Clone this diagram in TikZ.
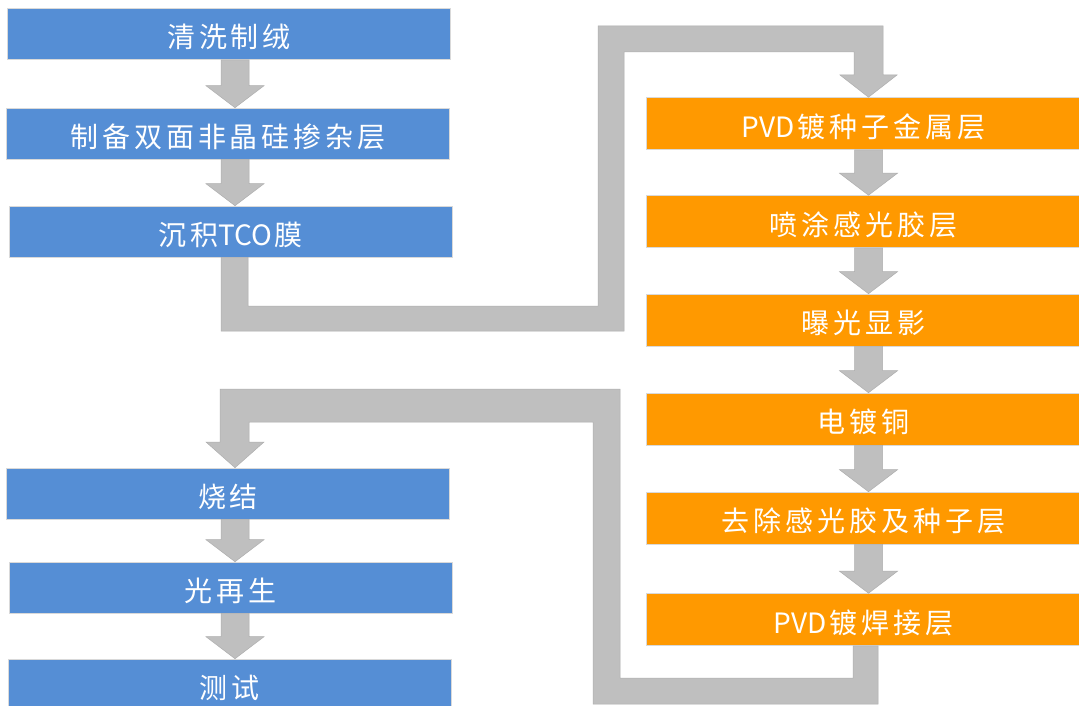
\documentclass[tikz,border=0pt]{standalone}
\usepackage{fontspec}
\newfontfamily\cjk[LetterSpace=14]{Noto Sans CJK SC}
\newfontfamily\lat{Noto Sans CJK SC}
\usetikzlibrary{calc}
\definecolor{bblue}{HTML}{558ED5}
\definecolor{borange}{HTML}{FF9900}
\definecolor{agray}{HTML}{BFBFBF}
\definecolor{aedge}{HTML}{AEAEAE}
\definecolor{bedge}{HTML}{D9D9D9}
\newcommand{\lbl}[1]{\raisebox{-3pt}[\height][\depth]{#1}}
\newcommand{\ltn}[1]{{\lat #1}\hspace{3pt}}
\newcommand{\blockarrow}[3]{%
  \fill[arr] let \p1=(#1.south), \p2=(#2.north), \p3=(#3) in
    ({\x3-14pt},{\y1}) -- ({\x3-14pt},{\y2+22pt}) -- ({\x3-29pt},{\y2+22pt}) --
    ({\x3},{\y2}) -- ({\x3+29pt},{\y2+22pt}) -- ({\x3+14pt},{\y2+22pt}) --
    ({\x3+14pt},{\y1}) -- cycle;}
\begin{document}
\begin{tikzpicture}[x=1pt,y=-1pt,
  box/.style={rectangle, inner sep=0pt, draw=bedge, line width=0.6pt, text=white,
    font=\cjk\fontsize{28}{32}\selectfont},
  bluebox/.style={box, fill=bblue, minimum width=443pt, minimum height=51pt},
  orangebox/.style={box, fill=borange, minimum width=434pt, minimum height=52pt},
  arr/.style={fill=agray, draw=aedge, line width=0.5pt}]
\useasboundingbox (0,0) rectangle (1079,706);
\fill[white] (0,0) rectangle (1079,706);

\coordinate (axL) at (235,0);
\coordinate (axR) at (868.5,0);

\node[bluebox] (L1) at (229,34) {\lbl{清洗制绒}};
\node[bluebox] (L2) at (228,133.5) {\lbl{制备双面非晶硅掺杂层}};
\node[bluebox] (L3) at (230.5,231.5) {\lbl{沉积\ltn{TCO}膜}};
\node[bluebox] (L4) at (228,493.5) {\lbl{烧结}};
\node[bluebox] (L5) at (230.5,587.5) {\lbl{光再生}};
\node[bluebox, minimum height=52pt] (L6) at (229.5,685) {\lbl{测试}};

\node[orangebox] (R1) at (863.5,123.5) {\lbl{\ltn{PVD}镀种子金属层}};
\node[orangebox] (R2) at (863.5,221.5) {\lbl{喷涂感光胶层}};
\node[orangebox] (R3) at (863.5,320) {\lbl{曝光显影}};
\node[orangebox] (R4) at (863.5,419) {\lbl{电镀铜}};
\node[orangebox] (R5) at (863.5,518) {\lbl{去除感光胶及种子层}};
\node[orangebox] (R6) at (863.5,619.5) {\lbl{\ltn{PVD}镀焊接层}};

\blockarrow{L1}{L2}{axL}
\blockarrow{L2}{L3}{axL}
\blockarrow{L4}{L5}{axL}
\blockarrow{L5}{L6}{axL}
\blockarrow{R1}{R2}{axR}
\blockarrow{R2}{R3}{axR}
\blockarrow{R3}{R4}{axR}
\blockarrow{R4}{R5}{axR}
\blockarrow{R5}{R6}{axR}

\fill[arr] let \p1=(L3.south), \p2=(R1.north) in
  (221pt,\y1) -- (221,331) -- (624,331) -- (624,52) -- (854,52) -- (854,75) --
  (840,75) -- (868.5pt,\y2) -- (897,75) -- (883,75) -- (883,26) -- (598,26) --
  (598,306) -- (248,306) -- (248pt,\y1) -- cycle;

\fill[arr] let \p1=(R6.south), \p2=(L4.north) in
  (853pt,\y1) -- (853,678) -- (620,678) -- (620,389) -- (220,389) -- (220,442) --
  (206,442) -- (235pt,\y2) -- (264,442) -- (249,442) -- (249,422) -- (593,422) --
  (593,704) -- (878,704) -- (878pt,\y1) -- cycle;
\end{tikzpicture}
\end{document}
